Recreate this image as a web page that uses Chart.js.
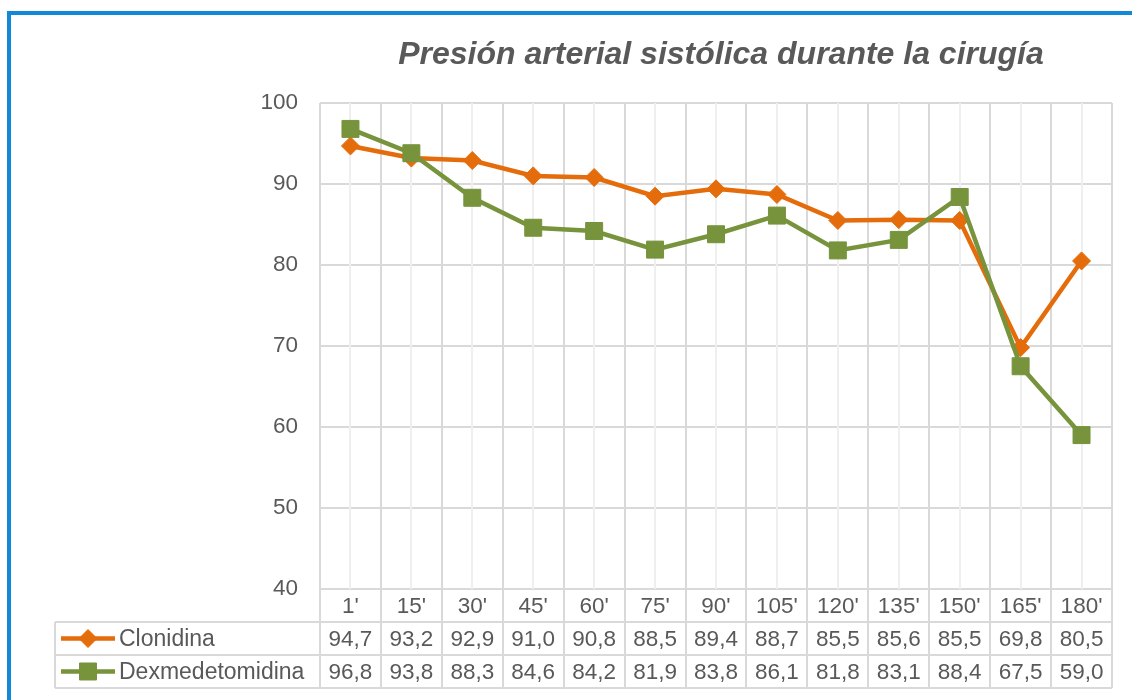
<!DOCTYPE html>
<html>
<head>
<meta charset="utf-8">
<script src="https://cdn.jsdelivr.net/npm/chart.js@4"></script>
<style>
  html, body { margin: 0; padding: 0; background: #fff; }
  #wrap { position: relative; width: 1132px; height: 700px; overflow: hidden; }
  #marco { position: absolute; left: 7px; top: 11px; width: 1200px; height: 800px;
           border-left: 4px solid #1289d6; border-top: 4px solid #1289d6; }
  canvas { position: absolute; left: 0; top: 0; }
</style>
</head>
<body>
<div id="wrap">
  <div id="marco"></div>
  <canvas id="grafico" width="1132" height="700"></canvas>
</div>
<script>
// Datos
var tiempos = ["1'", "15'", "30'", "45'", "60'", "75'", "90'", "105'", "120'", "135'", "150'", "165'", "180'"];
var clonidina = [94.7, 93.2, 92.9, 91.0, 90.8, 88.5, 89.4, 88.7, 85.5, 85.6, 85.5, 69.8, 80.5];
var dexmedetomidina = [96.8, 93.8, 88.3, 84.6, 84.2, 81.9, 83.8, 86.1, 81.8, 83.1, 88.4, 67.5, 59.0];
var titulo = 'Presión arterial sistólica durante la cirugía';

var colorClonidina = '#e46c0a';
var colorDex = '#77933c';
var gris = '#595959';
var lineaTabla = '#d9d9d9';
var fuente = '"Liberation Sans", Arial, sans-serif';

function formatear(v) {
    return v.toFixed(1).replace('.', ',');
}

// Plugin: líneas menores, título y tabla de datos
var tablaPlugin = {
    id: 'tablaDatos',
    beforeDatasetsDraw: function (chart) {
        var ctx = chart.ctx;
        var area = chart.chartArea;
        var x = chart.scales.x;
        ctx.save();
        ctx.strokeStyle = '#efefef';
        ctx.lineWidth = 2;
        for (var i = 0; i < tiempos.length; i++) {
            var px = Math.round(x.getPixelForValue(i));
            ctx.beginPath();
            ctx.moveTo(px, area.top);
            ctx.lineTo(px, area.bottom);
            ctx.stroke();
        }
        ctx.restore();
    },
    afterDraw: function (chart) {
        var ctx = chart.ctx;
        var area = chart.chartArea;
        var x = chart.scales.x;
        var filaAlto = 33;
        var y0 = area.bottom;
        var y1 = y0 + filaAlto;
        var y2 = y1 + filaAlto;
        var y3 = y2 + filaAlto;
        var izq = 55;
        var anchoCol = (area.right - area.left) / tiempos.length;

        ctx.save();
        // título
        ctx.fillStyle = gris;
        ctx.font = 'italic bold 32px ' + fuente;
        ctx.textAlign = 'center';
        ctx.textBaseline = 'middle';
        ctx.fillText(titulo, (area.left + area.right) / 2 + 5, 55);

        // rejilla de la tabla
        ctx.strokeStyle = lineaTabla;
        ctx.lineWidth = 2;
        ctx.beginPath();
        for (var i = 0; i <= tiempos.length; i++) {
            var bx = Math.round(area.left + i * anchoCol);
            ctx.moveTo(bx, y0);
            ctx.lineTo(bx, y3);
        }
        ctx.moveTo(izq, y1); ctx.lineTo(area.right, y1);
        ctx.moveTo(izq, y2); ctx.lineTo(area.right, y2);
        ctx.moveTo(izq, y3); ctx.lineTo(area.right, y3);
        ctx.moveTo(izq, y1); ctx.lineTo(izq, y3);
        ctx.stroke();

        // textos
        ctx.font = '22.5px ' + fuente;
        ctx.fillStyle = gris;
        ctx.textAlign = 'center';
        ctx.textBaseline = 'middle';
        for (var j = 0; j < tiempos.length; j++) {
            var cx = x.getPixelForValue(j);
            ctx.fillText(tiempos[j], cx, (y0 + y1) / 2 + 1);
            ctx.fillText(formatear(clonidina[j]), cx, (y1 + y2) / 2 + 1);
            ctx.fillText(formatear(dexmedetomidina[j]), cx, (y2 + y3) / 2 + 1);
        }

        // leyenda
        var filas = [
            { nombre: 'Clonidina', color: colorClonidina, estilo: 'rectRot', radio: 9, y: (y1 + y2) / 2 },
            { nombre: 'Dexmedetomidina', color: colorDex, estilo: 'rect', radio: 12, y: (y2 + y3) / 2 }
        ];
        filas.forEach(function (f) {
            ctx.strokeStyle = f.color;
            ctx.lineWidth = 4.5;
            ctx.beginPath();
            ctx.moveTo(61, f.y);
            ctx.lineTo(115, f.y);
            ctx.stroke();
            ctx.fillStyle = f.color;
            ctx.lineWidth = 1;
            Chart.helpers.drawPoint(ctx, { pointStyle: f.estilo, radius: f.radio, borderWidth: 1 }, 88, f.y);
            ctx.fillStyle = gris;
            ctx.textAlign = 'left';
            ctx.font = '23px ' + fuente;
            ctx.fillText(f.nombre, 119, f.y + 1);
        });
        ctx.restore();
    }
};

var ctx = document.getElementById('grafico').getContext('2d');
var grafico = new Chart(ctx, {
    type: 'line',
    data: {
        labels: tiempos,
        datasets: [{
            label: 'Clonidina',
            data: clonidina,
            borderColor: colorClonidina,
            backgroundColor: colorClonidina,
            borderWidth: 4.5,
            pointStyle: 'rectRot',
            pointRadius: 9,
            pointBorderWidth: 1,
            tension: 0,
            order: 2
        }, {
            label: 'Dexmedetomidina',
            data: dexmedetomidina,
            borderColor: colorDex,
            backgroundColor: colorDex,
            borderWidth: 4.5,
            pointStyle: 'rect',
            pointRadius: 12,
            pointBorderWidth: 1,
            tension: 0,
            order: 1
        }]
    },
    options: {
        responsive: false,
        animation: false,
        layout: { padding: { top: 103, right: 20, bottom: 0, left: 0 } },
        plugins: {
            legend: { display: false },
            title: { display: false },
            tooltip: { enabled: false }
        },
        scales: {
            x: {
                offset: true,
                grid: { offset: true, color: lineaTabla, lineWidth: 2, drawTicks: false },
                border: { display: false },
                ticks: { display: false },
                afterFit: function (scale) { scale.height = 111; }
            },
            y: {
                min: 40,
                max: 100,
                grid: { color: lineaTabla, lineWidth: 2, drawTicks: false },
                border: { display: false },
                ticks: {
                    stepSize: 10,
                    padding: 22,
                    color: gris,
                    font: { family: fuente, size: 22.5 }
                },
                afterFit: function (scale) { scale.width = 320; }
            }
        }
    },
    plugins: [tablaPlugin]
});
</script>
</body>
</html>
